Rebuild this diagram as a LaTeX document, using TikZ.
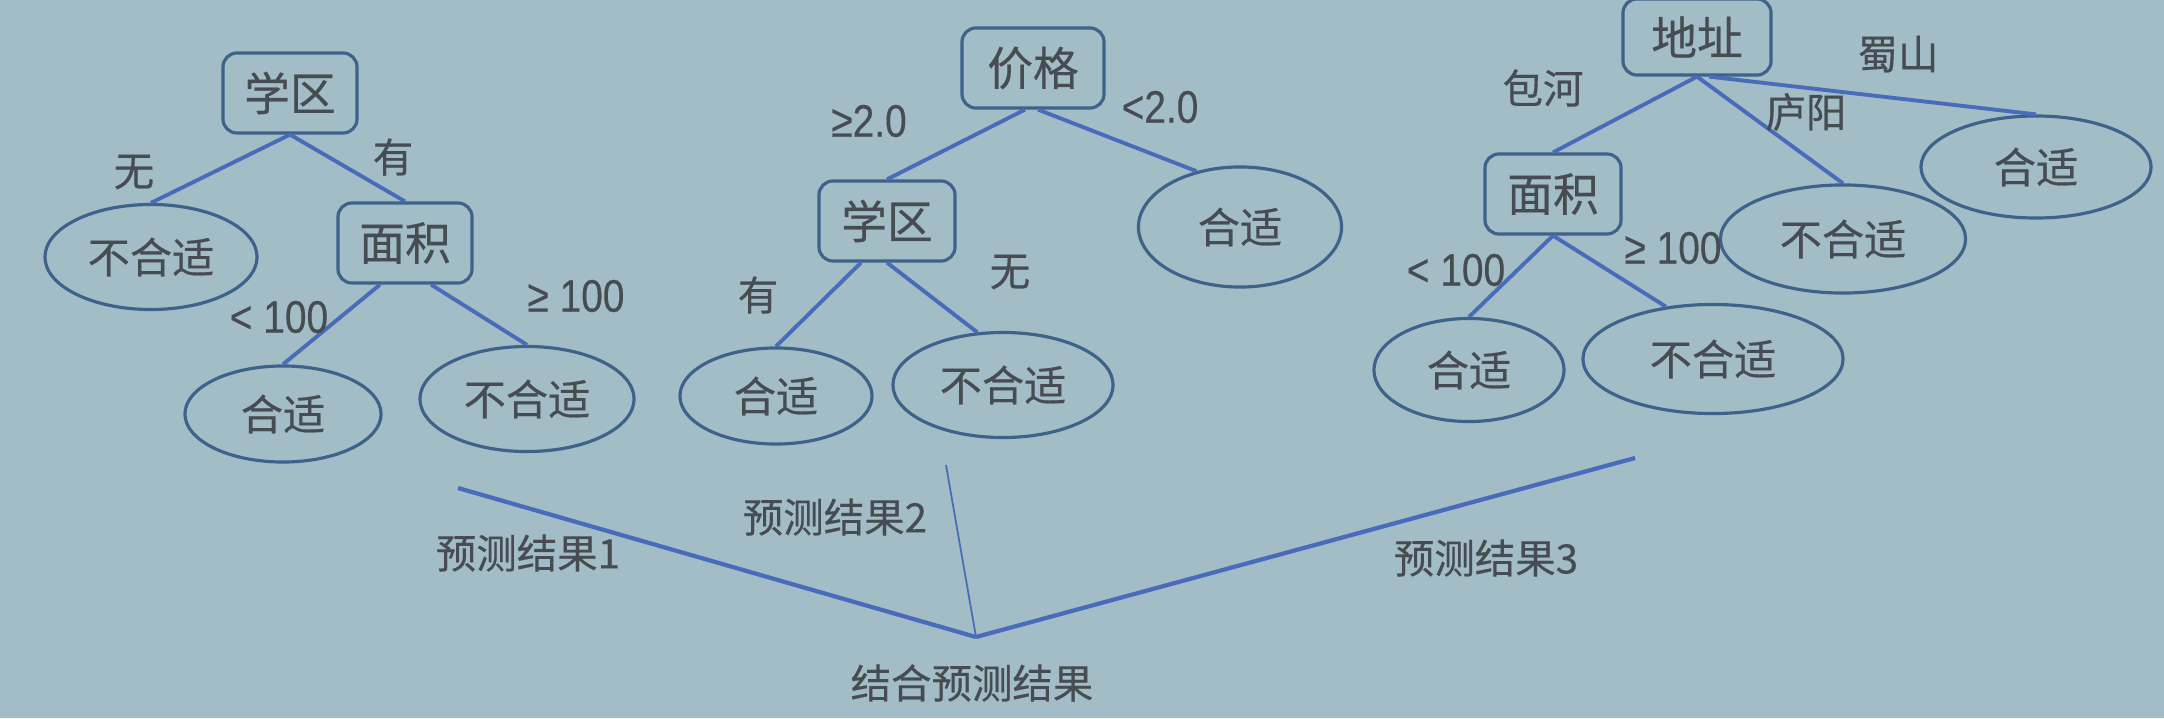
\documentclass[tikz,border=0pt]{standalone}
\usepackage{fontspec}
\setmainfont[FakeBold=0.4]{Noto Sans CJK SC}
\newfontfamily\numfont[FakeStretch=0.85, FakeBold=0.3]{Liberation Sans}
\usetikzlibrary{shapes.geometric}

\definecolor{slide}{RGB}{162,189,198}
\definecolor{wire}{RGB}{72,108,186}
\definecolor{rim}{RGB}{62,98,138}
\definecolor{ink}{RGB}{70,76,82}

\tikzset{
  attr/.style 2 args={draw=rim, line width=0.9pt, rounded corners=0.14cm, inner sep=0pt,
    minimum width=#1, minimum height=#2, text=ink, font=\fontsize{13}{13}\selectfont},
  leaf/.style 2 args={ellipse, draw=rim, line width=0.9pt, inner sep=0pt,
    minimum width=#1, minimum height=#2, text=ink, font=\fontsize{12}{12}\selectfont},
  lbl/.style={text=ink, inner sep=0pt, font=\fontsize{11.5}{11.5}\selectfont},
  num/.style={lbl, font=\fontsize{13}{13}\numfont},
  branch/.style={draw=wire, line width=1.1pt},
}

\begin{document}
\begin{tikzpicture}[x=0.01cm, y=-0.01cm]
    \useasboundingbox (0,0) rectangle (2164,718);
    \fill[slide] (0,0) rectangle (2164,718);

    % Tree 1
      \node[attr={1.34cm}{0.80cm}] (t1school) at (290,93) {学区};
      \node[leaf={2.12cm}{1.05cm}] (t1no) at (151,257) {不合适};
      \node[attr={1.34cm}{0.80cm}] (t1area) at (405,243) {面积};
      \node[leaf={1.96cm}{0.96cm}] (t1yes) at (283,414) {合适};
      \node[leaf={2.14cm}{1.05cm}] (t1no2) at (527,399) {不合适};

    % Tree 2
      \node[attr={1.42cm}{0.80cm}] (t2price) at (1033,68) {价格};
      \node[attr={1.36cm}{0.80cm}] (t2school) at (887,221) {学区};
      \node[leaf={2.03cm}{1.20cm}] (t2fit) at (1240,227) {合适};
      \node[leaf={1.92cm}{0.96cm}] (t2yes) at (776,396) {合适};
      \node[leaf={2.20cm}{1.05cm}] (t2no) at (1003,385) {不合适};

    % Tree 3
      \node[attr={1.48cm}{0.76cm}] (t3addr) at (1697,37) {地址};
      \node[attr={1.36cm}{0.80cm}] (t3area) at (1553,194) {面积};
      \node[leaf={2.45cm}{1.08cm}] (t3no) at (1843,239) {不合适};
      \node[leaf={2.30cm}{1.02cm}] (t3fit) at (2036,167) {合适};
      \node[leaf={1.90cm}{1.03cm}] (t3yes) at (1469,370) {合适};
      \node[leaf={2.60cm}{1.09cm}] (t3no2) at (1713,359) {不合适};

    % Edges
      \draw[branch] (t1school.south) -- (t1no.north);
      \draw[branch] (t1school.south) -- (t1area.north);
      \draw[branch] ([xshift=-0.25cm]t1area.south) -- (t1yes.north);
      \draw[branch] ([xshift=0.26cm]t1area.south) -- (t1no2.north);

      \draw[branch] ([xshift=-0.08cm]t2price.south) -- (t2school.north);
      \draw[branch] ([xshift=0.05cm]t2price.south) -- (t2fit.128);
      \draw[branch] ([xshift=-0.26cm]t2school.south) -- (t2yes.north);
      \draw[branch] (t2school.south) -- (t2no.116);

      \draw[branch] (t3addr.south) -- (t3area.north);
      \draw[branch] (t3addr.south) -- (t3no.north);
      \draw[branch] ([xshift=0.12cm]t3addr.south) -- (t3fit.north);
      \draw[branch] (t3area.south) -- (t3yes.north);
      \draw[branch] (t3area.south) -- (t3no2.132);

    % Edge labels
      \node[lbl] (e1a) at (134,172) {无};
      \node[lbl] (e1b) at (393,157) {有};
      \node[num] (e1c) at (279,317) {< 100};
      \node[num] (e1d) at (576,296) {≥ 100};

      \node[num] (e2a) at (869,121) {≥2.0};
      \node[num] (e2b) at (1160,107) {<2.0};
      \node[lbl] (e2c) at (758,295) {有};
      \node[lbl] (e2d) at (1010,272) {无};

      \node[lbl] (e3a) at (1543,88) {包河};
      \node[lbl] (e3b) at (1898,54) {蜀山};
      \node[lbl] (e3c) at (1806,112) {庐阳};
      \node[num] (e3d) at (1456,270) {< 100};
      \node[num] (e3e) at (1673,248) {≥ 100};

    % Combining
      \coordinate (jn) at (976,637);
      \coordinate (p1) at (458,488);
      \coordinate (p2) at (946,465);
      \coordinate (p3) at (1635,458);
      \draw[branch, line width=1.2pt] (p1) -- (jn);
      \draw[branch, line width=0.5pt] (p2) -- (jn);
      \draw[branch, line width=1.2pt] (p3) -- (jn);

      \node[lbl] (r1) at (528,553) {预测结果1};
      \node[lbl] (r2) at (835,517) {预测结果2};
      \node[lbl] (r3) at (1486,558) {预测结果3};
      \node[lbl] (rall) at (972,683) {结合预测结果};
  \end{tikzpicture}
\end{document}
